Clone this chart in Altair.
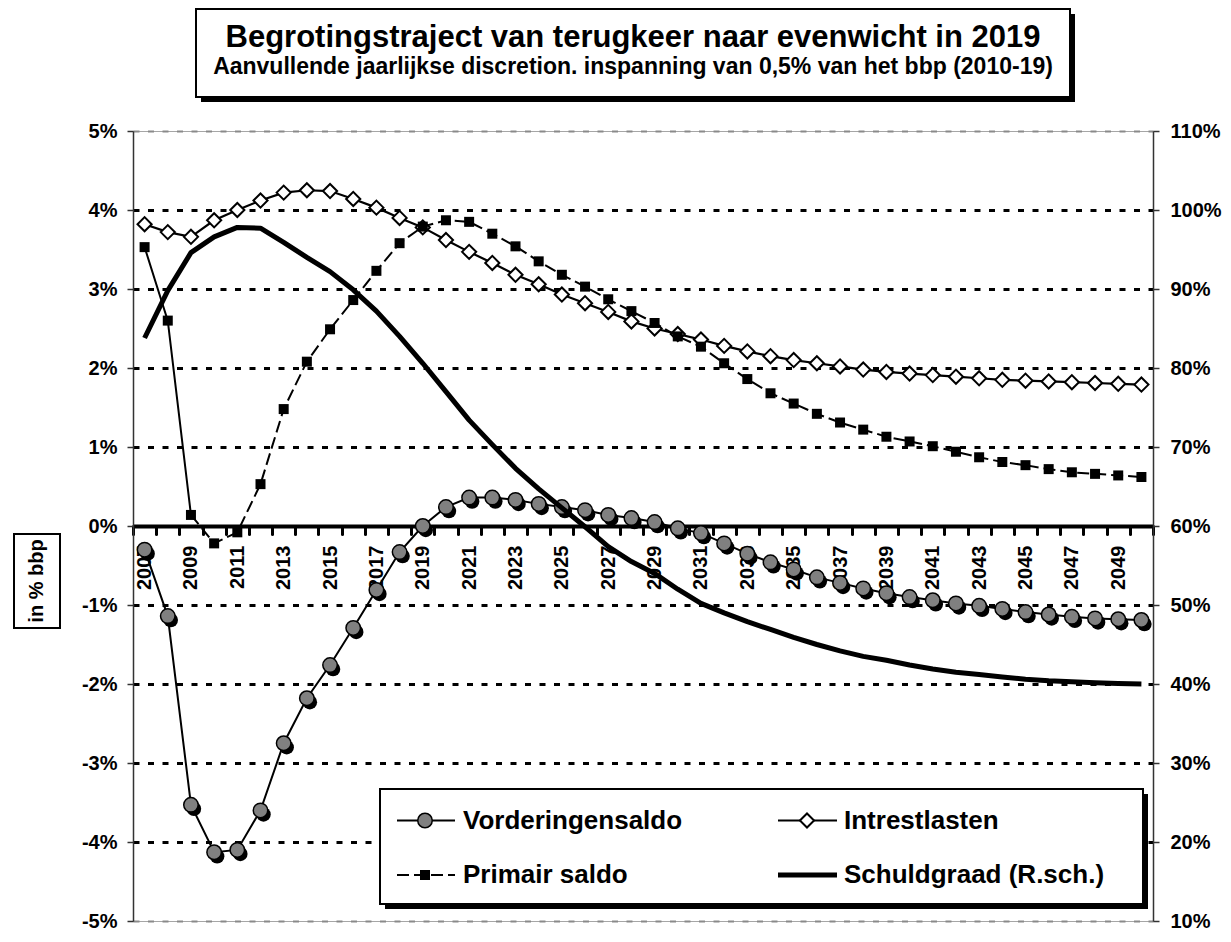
import altair as alt
import pandas as pd

# ---------------- data ----------------
years = [2007, 2008, 2009, 2010, 2011, 2012, 2013, 2014, 2015, 2016,
         2017, 2018, 2019, 2020, 2021, 2022, 2023, 2024, 2025, 2026,
         2027, 2028, 2029, 2030, 2031, 2032, 2033, 2034, 2035, 2036,
         2037, 2038, 2039, 2040, 2041, 2042, 2043, 2044, 2045, 2046,
         2047, 2048, 2049, 2050]

vorderingensaldo = [-0.30, -1.14, -3.53, -4.13, -4.10, -3.60, -2.75, -2.18, -1.76, -1.29,
                    -0.81, -0.33, 0.00, 0.24, 0.36, 0.36, 0.33, 0.28, 0.24, 0.20,
                    0.14, 0.10, 0.05, -0.03, -0.09, -0.22, -0.35, -0.46, -0.55, -0.65,
                    -0.72, -0.79, -0.85, -0.90, -0.94, -0.98, -1.01, -1.05, -1.09, -1.12,
                    -1.15, -1.17, -1.18, -1.19]

intrestlasten = [3.82, 3.72, 3.66, 3.87, 4.00, 4.12, 4.22, 4.25, 4.24, 4.14,
                 4.03, 3.90, 3.78, 3.62, 3.47, 3.33, 3.18, 3.06, 2.93, 2.82,
                 2.71, 2.59, 2.50, 2.43, 2.36, 2.28, 2.21, 2.15, 2.10, 2.06,
                 2.02, 1.98, 1.95, 1.93, 1.91, 1.89, 1.87, 1.85, 1.84, 1.83,
                 1.82, 1.81, 1.80, 1.79]

primair_saldo = [3.53, 2.60, 0.14, -0.22, -0.08, 0.53, 1.48, 2.08, 2.49, 2.86,
                 3.23, 3.58, 3.79, 3.87, 3.85, 3.70, 3.54, 3.35, 3.18, 3.03,
                 2.87, 2.72, 2.57, 2.40, 2.27, 2.06, 1.86, 1.68, 1.55, 1.42,
                 1.31, 1.22, 1.13, 1.07, 1.01, 0.94, 0.87, 0.81, 0.77, 0.72,
                 0.68, 0.66, 0.64, 0.62]

schuldgraad = [83.8, 89.8, 94.6, 96.6, 97.8, 97.7, 95.9, 94.0, 92.2, 89.9,
               87.2, 84.0, 80.6, 77.0, 73.4, 70.3, 67.3, 64.7, 62.3, 59.9,
               57.4, 55.5, 54.0, 52.0, 50.2, 49.0, 47.9, 46.9, 45.9, 45.0,
               44.2, 43.5, 43.0, 42.4, 41.9, 41.5, 41.2, 40.9, 40.6, 40.4,
               40.3, 40.15, 40.05, 40.0]

year_labels = [2007, 2009, 2011, 2013, 2015, 2017, 2019, 2021, 2023, 2025, 2027,
               2029, 2031, 2033, 2035, 2037, 2039, 2041, 2043, 2045, 2047, 2049]
left_ticks = [-5, -4, -3, -2, -1, 0, 1, 2, 3, 4, 5]
right_ticks = [10, 20, 30, 40, 50, 60, 70, 80, 90, 100, 110]
last_realised_year = 2009  # primair saldo drawn solid up to here, dashed after

series_names = ["Vorderingensaldo", "Intrestlasten", "Primair saldo", "Schuldgraad (R.sch.)"]
title_text = "Begrotingstraject van terugkeer naar evenwicht in 2019"
subtitle_text = "Aanvullende jaarlijkse discretion. inspanning van 0,5% van het bbp (2010-19)"
y_title_text = "in % bbp"

# ---------------- layout ----------------
FONT = "Liberation Sans"
W, H = 1020, 790

df = pd.DataFrame({
    "jaar": years,
    "vord": vorderingensaldo,
    "intr": intrestlasten,
    "prim": primair_saldo,
    "schuld": schuldgraad,
})

band = W / len(years)
bounds = [y - 0.5 for y in years] + [years[-1] + 0.5]
lab_arr = ",".join(str(v) for v in year_labels)

x_axis = alt.Axis(
    values=bounds, offset=-H / 2, grid=False, title=None,
    domainColor="black", domainWidth=4,
    tickColor="black", tickWidth=3, tickSize=8, tickCap="round",
    labelExpr=f"indexof([{lab_arr}], datum.value + 0.5) >= 0 ? toString(datum.value + 0.5) : ''",
    labelAngle=270, labelAlign="right", labelBaseline="middle",
    labelOffset=band / 2, labelPadding=11,
    labelFont=FONT, labelFontSize=20, labelFontWeight="bold", labelColor="black",
    labelOverlap=False, labelFlush=False, labelBound=False,
)
x_enc = alt.X("jaar:Q", scale=alt.Scale(domain=[bounds[0], bounds[-1]], nice=False, zero=False), axis=x_axis)

left_scale = alt.Scale(domain=[left_ticks[0], left_ticks[-1]], nice=False, zero=False)
y_axis = alt.Axis(
    values=left_ticks, labelExpr="datum.value + '%'", title=None,
    grid=True,
    gridColor={"condition": {"test": "abs(datum.value) == 5", "value": "#8a8a8a"}, "value": "black"},
    gridWidth={"condition": {"test": "abs(datum.value) == 5", "value": 2}, "value": 3},
    gridDash=[6, 8.5],
    domainColor="#333333", domainWidth=1.5,
    tickColor="#333333", tickWidth=1.5, tickSize=6,
    labelPadding=10, labelFont=FONT, labelFontSize=20, labelFontWeight="bold", labelColor="black",
)


def yl(col):
    return alt.Y(f"{col}:Q", scale=left_scale, axis=y_axis)


base = alt.Chart(df)

vord_line = base.mark_line(color="black", strokeWidth=2).encode(x=x_enc, y=yl("vord"))
vord_shadow = base.mark_circle(size=210, color="black", opacity=1, xOffset=3, yOffset=4).encode(x=x_enc, y=yl("vord"))
vord_pts = base.mark_circle(size=210, fill="#808080", stroke="black", strokeWidth=1.5, opacity=1).encode(x=x_enc, y=yl("vord"))

intr_line = base.mark_line(color="black", strokeWidth=2.2).encode(x=x_enc, y=yl("intr"))
intr_pts = base.mark_point(shape="diamond", size=200, filled=True, fill="white", stroke="black",
                           strokeWidth=2, opacity=1).encode(x=x_enc, y=yl("intr"))

prim_line_solid = base.transform_filter(f"datum.jaar <= {last_realised_year}").mark_line(
    color="black", strokeWidth=2).encode(x=x_enc, y=yl("prim"))
prim_line_dash = base.transform_filter(f"datum.jaar >= {last_realised_year}").mark_line(
    color="black", strokeWidth=2, strokeDash=[12, 5]).encode(x=x_enc, y=yl("prim"))
prim_pts = base.mark_square(size=100, color="black", opacity=1).encode(x=x_enc, y=yl("prim"))

left = alt.layer(vord_line, vord_shadow, vord_pts, intr_line, intr_pts,
                 prim_line_solid, prim_line_dash, prim_pts)

right_axis = alt.Axis(
    values=right_ticks, orient="right", labelExpr="datum.value + '%'", title=None, grid=False,
    domainColor="#333333", domainWidth=1.5,
    tickColor="#333333", tickWidth=1.5, tickSize=6,
    labelPadding=11, labelFont=FONT, labelFontSize=20, labelFontWeight="bold", labelColor="black",
)
schuld_line = base.mark_line(color="black", strokeWidth=5, strokeJoin="round").encode(
    x=x_enc,
    y=alt.Y("schuld:Q", scale=alt.Scale(domain=[right_ticks[0], right_ticks[-1]], nice=False, zero=False),
            axis=right_axis),
)

# ---------------- decorations (title box, axis title box, legend) ----------------
one = alt.Data(values=[{"k": 1}])


def box(x, x2, y, y2, **kw):
    return alt.Chart(one).mark_rect(**kw).encode(
        x=alt.value(x), x2=alt.value(x2), y=alt.value(y), y2=alt.value(y2))


def txt(s, x, y, **kw):
    return alt.Chart(one).mark_text(text=s, font=FONT, fontWeight="bold", color="black", **kw).encode(
        x=alt.value(x), y=alt.value(y))


def hline(x, x2, y, **kw):
    return alt.Chart(one).mark_rule(color="black", **kw).encode(
        x=alt.value(x), x2=alt.value(x2), y=alt.value(y))


def sym(x, y, **kw):
    return alt.Chart(one).mark_point(opacity=1, **kw).encode(x=alt.value(x), y=alt.value(y))


decor = [
    # title box
    box(68, 942, -117, -29, color="black"),
    box(63, 937, -122, -34, fill="white", stroke="black", strokeWidth=2),
    txt(title_text, 500, -84, fontSize=31, align="center", baseline="alphabetic"),
    txt(subtitle_text, 500, -57, fontSize=23, align="center", baseline="alphabetic"),
    # y axis title box
    box(-119, -73, 403, 497, fill="white", stroke="black", strokeWidth=2),
    txt(y_title_text, -96, 450, fontSize=20, angle=270, align="center", baseline="middle"),
    # legend
    box(252, 1015, 663, 778, color="black"),
    box(247, 1010, 658, 773, fill="white", stroke="black", strokeWidth=2),
    hline(264, 322, 689.5, strokeWidth=2),
    sym(292, 689.5, shape="circle", size=210, filled=True, fill="#808080", stroke="black", strokeWidth=1.5),
    txt(series_names[0], 330, 689.5, fontSize=26, align="left", baseline="middle"),
    hline(645, 704, 689.5, strokeWidth=2),
    sym(674, 689.5, shape="diamond", size=200, filled=True, fill="white", stroke="black", strokeWidth=2),
    txt(series_names[1], 711, 689.5, fontSize=26, align="left", baseline="middle"),
    hline(264, 322, 744, strokeWidth=2, strokeDash=[12, 5]),
    sym(292, 744, shape="square", size=100, filled=True, color="black"),
    txt(series_names[2], 330, 744, fontSize=26, align="left", baseline="middle"),
    hline(645, 704, 744, strokeWidth=5),
    txt(series_names[3], 711, 744, fontSize=26, align="left", baseline="middle"),
]

chart = (
    alt.layer(left, schuld_line, *decor)
    .resolve_scale(y="independent")
    .properties(
        width=W, height=H,
        autosize=alt.AutoSizeParams(type="none"),
        padding={"left": 125, "top": 123, "right": 70, "bottom": 12},
        background="white",
    )
    .configure_view(stroke="#a6a6a6", strokeWidth=1)
)

chart.save("out.html", embed_options={"renderer": "svg", "actions": False})
